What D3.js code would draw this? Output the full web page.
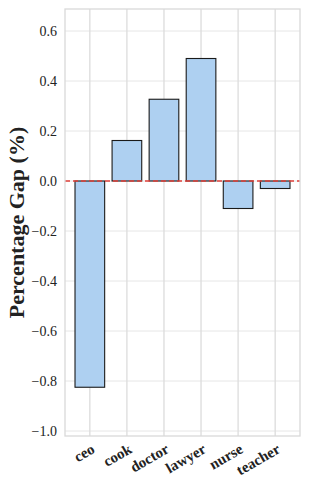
<!DOCTYPE html>
<html>
<head>
<meta charset="utf-8">
<title>Percentage Gap</title>
<script src="https://d3js.org/d3.v7.min.js"></script>
<style>
  body { margin: 0; background: #fff; }
  svg text { font-family: "Liberation Serif", "DejaVu Serif", serif; fill: #222; }
</style>
</head>
<body>
<div id="chart"></div>
<script>
var jobs = ["ceo", "cook", "doctor", "lawyer", "nurse", "teacher"];
var gaps = [-0.825, 0.162, 0.327, 0.49, -0.11, -0.03];
var yTicks = [-1.0, -0.8, -0.6, -0.4, -0.2, 0.0, 0.2, 0.4, 0.6];

var width = 309, height = 490,
    margin = {top: 9, right: 9, bottom: 54, left: 65},
    w = width - margin.left - margin.right,
    h = height - margin.top - margin.bottom;

var svg = d3.select("#chart").append("svg")
    .attr("width", width)
    .attr("height", height);

var g = svg.append("g")
    .attr("transform", "translate(" + margin.left + "," + margin.top + ")");

var x = d3.scaleBand()
    .domain(jobs)
    .range([0, w])
    .paddingInner(0.2)
    .paddingOuter(0.27);

var y = d3.scaleLinear()
    .domain([-1.02, 0.688])
    .range([h, 0]);

// grid
g.selectAll(".hgrid").data(yTicks).enter().append("line")
    .attr("x1", 0).attr("x2", w)
    .attr("y1", d => y(d)).attr("y2", d => y(d))
    .attr("stroke", "#e6e6e6").attr("stroke-width", 1);

g.selectAll(".vgrid").data(jobs).enter().append("line")
    .attr("x1", d => x(d) + x.bandwidth() / 2)
    .attr("x2", d => x(d) + x.bandwidth() / 2)
    .attr("y1", 0).attr("y2", h)
    .attr("stroke", "#dcdcdc").attr("stroke-width", 1.3);

// bars
g.selectAll(".bar").data(jobs).enter().append("rect")
    .attr("x", d => x(d))
    .attr("width", x.bandwidth())
    .attr("y", (d, i) => y(Math.max(0, gaps[i])))
    .attr("height", (d, i) => Math.abs(y(gaps[i]) - y(0)))
    .attr("fill", "#aed0f1")
    .attr("stroke", "#1a1a1a")
    .attr("stroke-width", 1.1);

// zero line
g.append("line")
    .attr("x1", 0).attr("x2", w)
    .attr("y1", y(0)).attr("y2", y(0))
    .attr("stroke", "#e0403a")
    .attr("stroke-width", 1.4)
    .attr("stroke-dasharray", "5,3");

// frame
g.append("rect")
    .attr("width", w).attr("height", h)
    .attr("fill", "none")
    .attr("stroke", "#d9d9d9")
    .attr("stroke-width", 1.3);

// y axis
var yAxis = g.append("g")
    .call(d3.axisLeft(y).tickValues(yTicks).tickSize(0).tickPadding(8)
      .tickFormat(d => d3.format(".1f")(d).replace("-", "\u2212")));
yAxis.select(".domain").remove();
yAxis.selectAll("text")
    .style("font-size", "14px");

// x axis
var xAxis = g.append("g")
    .attr("transform", "translate(0," + h + ")")
    .call(d3.axisBottom(x).tickSize(0).tickPadding(0));
xAxis.select(".domain").remove();
xAxis.selectAll("text")
    .style("font-size", "15px")
    .style("font-weight", "bold")
    .attr("text-anchor", "end")
    .attr("dy", null)
    .attr("transform", "translate(6,16) rotate(-30)");

// y title
svg.append("text")
    .attr("transform", "translate(24," + (margin.top + h / 2) + ") rotate(-90)")
    .attr("text-anchor", "middle")
    .style("font-size", "22px")
    .style("font-weight", "bold")
    .text("Percentage Gap (%)");
</script>
</body>
</html>
